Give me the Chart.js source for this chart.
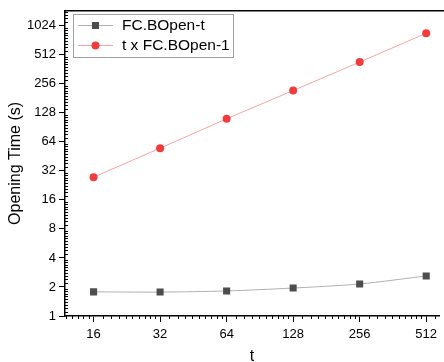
<!DOCTYPE html>
<html><head><meta charset="utf-8">
<script src="https://cdn.jsdelivr.net/npm/chart.js@4/dist/chart.umd.min.js"></script>
<style>html,body{margin:0;padding:0;background:#fff}#wrap{width:444px;height:362px;position:relative}</style>
</head><body><div id="wrap"><canvas id="c" width="444" height="362"></canvas></div>
<script>
const tValues = [16, 32, 64, 128, 256, 512];
const openT = [1.78, 1.77, 1.82, 1.95, 2.15, 2.6];
const tTimesOpen1 = [27.5, 55, 111, 218, 430, 855];
const xTickValues = [16, 32, 64, 128, 256, 512];
const yTickValues = [1, 2, 4, 8, 16, 32, 64, 128, 256, 512, 1024];
const seriesNames = ['FC.BOpen-t', 't x FC.BOpen-1'];

const FONT = '"Liberation Sans", Arial, sans-serif';

const minorTicks = {
  id: 'minorTicks',
  afterDraw(chart) {
    const ctx = chart.ctx, a = chart.chartArea;
    const xs = chart.scales.x, ys = chart.scales.y;
    ctx.save();
    ctx.strokeStyle = '#000';
    ctx.lineWidth = 1;
    for (let n = 2; n < 11; n++) {
      const base = Math.pow(2, n);
      for (let k = 1; k < 10; k++) {
        const v = base * (1 + k / 10);
        if (v < xs.min || v > xs.max) continue;
        const px = Math.round(xs.getPixelForValue(v)) + 0.5;
        ctx.beginPath(); ctx.moveTo(px, a.bottom); ctx.lineTo(px, a.bottom + 3); ctx.stroke();
      }
    }
    for (let n = 0; n < 11; n++) {
      const base = Math.pow(2, n);
      for (let k = 1; k < 10; k++) {
        const v = base * (1 + k / 10);
        if (v < ys.min || v > ys.max) continue;
        const py = Math.round(ys.getPixelForValue(v)) + 0.5;
        ctx.beginPath(); ctx.moveTo(a.left, py); ctx.lineTo(a.left + 3, py); ctx.stroke();
      }
    }
    ctx.lineWidth = 1.5;
    ctx.beginPath(); ctx.moveTo(a.left, a.top); ctx.lineTo(chart.width, a.top); ctx.stroke();
    ctx.restore();
  }
};

const customLegend = {
  id: 'customLegend',
  afterDraw(chart) {
    const ctx = chart.ctx;
    ctx.save();
    const bx = 73.5, by = 14.5, bw = 160, bh = 43;
    ctx.fillStyle = '#fff';
    ctx.fillRect(bx, by, bw, bh);
    ctx.strokeStyle = '#a0a0a0';
    ctx.lineWidth = 1;
    ctx.strokeRect(bx, by, bw, bh);
    chart.data.datasets.forEach((ds, i) => {
      const y = 25 + i * 20;
      ctx.strokeStyle = ds.borderColor;
      ctx.lineWidth = 1;
      ctx.beginPath(); ctx.moveTo(78, y + 0.5); ctx.lineTo(113, y + 0.5); ctx.stroke();
      ctx.fillStyle = ds.pointBackgroundColor;
      if (ds.pointStyle === 'rect') {
        ctx.fillRect(92, y - 3, 7, 7);
      } else {
        ctx.beginPath(); ctx.arc(95.5, y + 0.5, 4, 0, Math.PI * 2); ctx.fill();
      }
      ctx.fillStyle = '#000';
      ctx.font = '15.5px ' + FONT;
      ctx.textBaseline = 'middle';
      ctx.fillText(ds.label, 122, y + 1);
    });
    ctx.restore();
  }
};

new Chart(document.getElementById('c'), {
  type: 'line',
  data: {
    datasets: [
      {
        label: seriesNames[0],
        data: tValues.map((t, i) => ({ x: t, y: openT[i] })),
        borderColor: '#b0b0b0', borderWidth: 1,
        pointStyle: 'rect', pointRadius: 5, pointBorderWidth: 0,
        pointBackgroundColor: '#4d4d4d', pointBorderColor: '#4d4d4d',
        tension: 0.3
      },
      {
        label: seriesNames[1],
        data: tValues.map((t, i) => ({ x: t, y: tTimesOpen1[i] })),
        borderColor: '#f7a3a3', borderWidth: 1,
        pointStyle: 'circle', pointRadius: 4, pointBorderWidth: 0,
        pointBackgroundColor: '#f03c3c', pointBorderColor: '#f03c3c',
        tension: 0
      }
    ]
  },
  options: {
    responsive: false,
    animation: false,
    devicePixelRatio: 1,
    layout: { padding: { top: 9, right: 0, left: 0, bottom: 0 } },
    plugins: { legend: { display: false }, tooltip: { enabled: false } },
    scales: {
      x: {
        type: 'logarithmic', min: 11.88, max: 585,
        afterBuildTicks: s => { s.ticks = xTickValues.map(v => ({ value: v })); },
        afterFit: s => { s.height = 46; },
        ticks: { autoSkip: false, maxRotation: 0, padding: 5, color: '#000',
          font: { family: FONT, size: 13 }, callback: v => String(v) },
        grid: { drawOnChartArea: false, drawTicks: true, tickLength: 6, tickColor: '#000', tickWidth: 1 },
        border: { display: true, color: '#000', width: 1.5 },
        title: { display: true, text: 't', color: '#000', font: { family: FONT, size: 16 }, padding: { top: 0, bottom: -4 } }
      },
      y: {
        type: 'logarithmic', min: 1, max: 1462,
        afterBuildTicks: s => { s.ticks = yTickValues.map(v => ({ value: v })); },
        afterFit: s => { s.width = 65; },
        ticks: { autoSkip: false, padding: 3, color: '#000',
          font: { family: FONT, size: 13 }, callback: v => String(v) },
        grid: { drawOnChartArea: false, drawTicks: true, tickLength: 6, tickColor: '#000', tickWidth: 1 },
        border: { display: true, color: '#000', width: 1.5 },
        title: { display: true, text: 'Opening Time (s)', color: '#000', font: { family: FONT, size: 16 }, padding: { top: 6, bottom: 0 } }
      }
    }
  },
  plugins: [minorTicks, customLegend]
});
</script></body></html>
